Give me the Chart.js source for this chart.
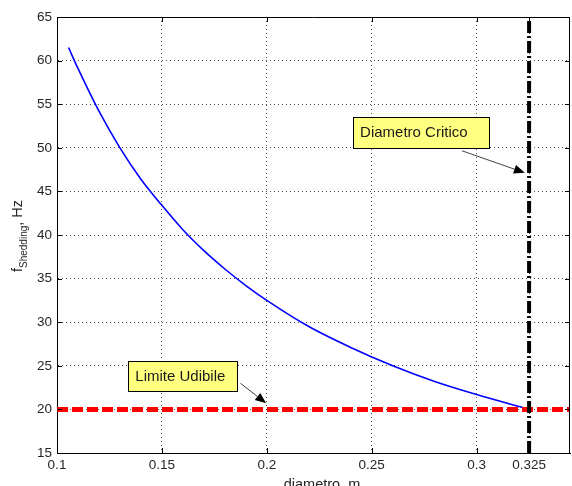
<!DOCTYPE html>
<html>
<head>
<meta charset="utf-8">
<script src="https://cdn.jsdelivr.net/npm/chart.js@4.4.1/dist/chart.umd.min.js"></script>
<style>
html,body{margin:0;padding:0;background:#fff;}
#wrap{width:572px;height:486px;position:relative;}
</style>
</head>
<body>
<div id="wrap"><canvas id="c" width="572" height="486"></canvas></div>
<script>
// ---- data ----
const diameters = [0.1055, 0.11, 0.12, 0.13, 0.14, 0.15, 0.16, 0.17, 0.18, 0.19, 0.2, 0.22, 0.24, 0.26, 0.28, 0.3, 0.325];
const fShedding = [61.5, 59.1, 54.2, 50.0, 46.4, 43.4, 40.6, 38.2, 36.1, 34.2, 32.5, 29.5, 27.1, 25.0, 23.2, 21.7, 20.0];
const xTicks = [0.1, 0.15, 0.2, 0.25, 0.3, 0.325];
const yTicks = [15, 20, 25, 30, 35, 40, 45, 50, 55, 60, 65];
const xRange = [0.1, 0.3445];
const yRange = [15, 65];
const limiteUdibile = 20;     // Hz
const diametroCritico = 0.325; // m
const xTitle = "diametro, m";
const yTitleMain = "f";
const yTitleSub = "Shedding";
const yTitleUnit = ", Hz";
const annotations = [
  { text: "Diametro Critico", box: [0.2411, 53.56, 0.3059, 50.0], tail: [0.2930, 49.66], head: [0.3230, 47.13] },
  { text: "Limite Udibile",   box: [0.1340, 25.52, 0.1859, 22.07], tail: [0.1874, 23.0],  head: [0.1997, 20.7] }
];

const FONT = "'Liberation Sans', Arial, sans-serif";

const curve = diameters.map((d, i) => ({ x: d, y: fShedding[i] }));

const extras = {
  id: 'extras',
  afterDatasetsDraw(chart) {
    const ctx = chart.ctx;
    const xs = chart.scales.x, ys = chart.scales.y;
    const a = chart.chartArea;
    ctx.save();
    // box on top/right
    ctx.strokeStyle = '#000';
    ctx.lineWidth = 1;
    ctx.beginPath();
    ctx.moveTo(Math.round(a.left) + 0.5, Math.round(a.top) + 0.5);
    ctx.lineTo(Math.round(a.right) - 0.5, Math.round(a.top) + 0.5);
    ctx.lineTo(Math.round(a.right) - 0.5, Math.round(a.bottom) + 0.5);
    ctx.stroke();
    // inward tick marks
    ctx.beginPath();
    xTicks.forEach(v => {
      const px = Math.round(xs.getPixelForValue(v)) + 0.5;
      ctx.moveTo(px, a.bottom); ctx.lineTo(px, a.bottom - 5);
      ctx.moveTo(px, a.top); ctx.lineTo(px, a.top + 5);
    });
    yTicks.forEach(v => {
      const py = Math.round(ys.getPixelForValue(v)) + 0.5;
      ctx.moveTo(a.left, py); ctx.lineTo(a.left + 5, py);
      ctx.moveTo(a.right, py); ctx.lineTo(a.right - 5, py);
    });
    ctx.stroke();

    // annotations
    annotations.forEach(an => {
      const x1 = xs.getPixelForValue(an.box[0]), y1 = ys.getPixelForValue(an.box[1]);
      const x2 = xs.getPixelForValue(an.box[2]), y2 = ys.getPixelForValue(an.box[3]);
      const tx = xs.getPixelForValue(an.tail[0]), ty = ys.getPixelForValue(an.tail[1]);
      const hx = xs.getPixelForValue(an.head[0]), hy = ys.getPixelForValue(an.head[1]);
      const ang = Math.atan2(hy - ty, hx - tx);
      const L = 11, W = 4.5;
      const bx = hx - L * Math.cos(ang), by = hy - L * Math.sin(ang);
      ctx.strokeStyle = '#404040';
      ctx.lineWidth = 1;
      ctx.beginPath(); ctx.moveTo(tx, ty); ctx.lineTo(bx, by); ctx.stroke();
      ctx.fillStyle = '#000';
      ctx.beginPath();
      ctx.moveTo(hx, hy);
      ctx.lineTo(bx + W * Math.sin(ang), by - W * Math.cos(ang));
      ctx.lineTo(bx - W * Math.sin(ang), by + W * Math.cos(ang));
      ctx.closePath(); ctx.fill();
      ctx.fillStyle = '#ffff80';
      const rx = Math.round(x1) + 0.5, ry = Math.round(y1) + 0.5;
      const rw = Math.round(x2 - x1), rh = Math.round(y2 - y1);
      ctx.fillRect(rx, ry, rw, rh);
      ctx.strokeStyle = '#000';
      ctx.strokeRect(rx, ry, rw, rh);
      ctx.fillStyle = '#1a1a1a';
      ctx.font = '15px ' + FONT;
      ctx.textBaseline = 'middle';
      ctx.textAlign = 'left';
      ctx.fillText(an.text, x1 + 7, (y1 + y2) / 2 + 1);
    });

    // x title
    ctx.fillStyle = '#262626';
    ctx.font = '14.5px ' + FONT;
    ctx.textAlign = 'center';
    ctx.textBaseline = 'top';
    ctx.fillText(xTitle, 322, 478);

    // y title rotated
    ctx.translate(22, 236);
    ctx.rotate(-Math.PI / 2);
    ctx.textAlign = 'left';
    ctx.textBaseline = 'alphabetic';
    const mainF = '14.5px ' + FONT, subF = '10px ' + FONT;
    ctx.font = mainF;
    const w1 = ctx.measureText(yTitleMain).width;
    ctx.font = subF;
    const w2 = ctx.measureText(yTitleSub).width;
    ctx.font = mainF;
    const w3 = ctx.measureText(yTitleUnit).width;
    let sx = -(w1 + w2 + w3) / 2;
    ctx.fillText(yTitleMain, sx, 0); sx += w1;
    ctx.font = subF;
    ctx.fillText(yTitleSub, sx, 5); sx += w2;
    ctx.font = mainF;
    ctx.fillText(yTitleUnit, sx, 0);
    ctx.restore();
  }
};

new Chart(document.getElementById('c'), {
  type: 'scatter',
  data: {
    datasets: [
      { data: curve, showLine: true, borderColor: '#0000ff', borderWidth: 1.6, pointRadius: 0, cubicInterpolationMode: 'monotone', order: 3 },
      { data: [{ x: xRange[0], y: limiteUdibile }, { x: xRange[1], y: limiteUdibile }], showLine: true, borderColor: '#ff0000', borderWidth: 5, borderDash: [11, 4], pointRadius: 0, order: 2 },
      { data: [{ x: diametroCritico, y: yRange[0] }, { x: diametroCritico, y: yRange[1] }], showLine: true, borderColor: '#000000', borderWidth: 4, borderDash: [12, 3, 2, 3], pointRadius: 0, order: 1 }
    ]
  },
  options: {
    responsive: false,
    animation: false,
    events: [],
    layout: { padding: { top: 17, right: 2, left: 0, bottom: 0 } },
    plugins: { legend: { display: false }, tooltip: { enabled: false } },
    scales: {
      x: {
        type: 'linear', min: xRange[0], max: xRange[1],
        afterBuildTicks: ax => { ax.ticks = xTicks.map(v => ({ value: v })); },
        afterFit: s => { s.height = 33; },
        ticks: { color: '#262626', font: { family: FONT, size: 13.5 }, padding: 4, maxRotation: 0, autoSkip: false, callback: v => String(v) },
        grid: { color: 'rgba(0,0,0,0.7)', lineWidth: 1, drawTicks: false },
        border: { display: true, color: '#000', width: 1, dash: [1, 3] }
      },
      y: {
        type: 'linear', min: yRange[0], max: yRange[1],
        afterBuildTicks: ax => { ax.ticks = yTicks.map(v => ({ value: v })); },
        afterFit: s => { s.width = 57; },
        ticks: { color: '#262626', font: { family: FONT, size: 13.5 }, padding: 5, callback: v => String(v) },
        grid: { color: 'rgba(0,0,0,0.7)', lineWidth: 1, drawTicks: false },
        border: { display: true, color: '#000', width: 1, dash: [1, 3] }
      }
    }
  },
  plugins: [extras]
});
</script>
</body>
</html>
